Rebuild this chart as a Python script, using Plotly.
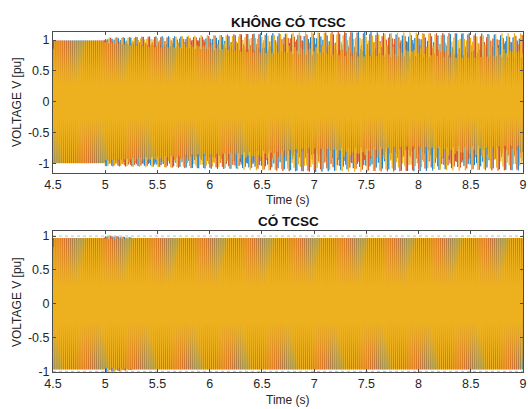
import numpy as np
import plotly.graph_objects as go

# ---- data ----
f_grid = 50.0                      # Hz, grid frequency
f_beat = 17.0                      # Hz, sub-synchronous swing
sample_rate = 3000                 # samples per second
t_start, t_end = 4.5, 9.0

phase_names = ["Va", "Vb", "Vc"]
phase_colors = ["#0072BD", "#D95319", "#EDB120"]
phase_widths = [0.7, 0.8, 1.3]
phase_shift_deg = [0, -120, 120]
beat_shift_deg = [0, 110, 230]

# top panel (KHÔNG CÓ TCSC): amplitude envelope
top_env_t = [4.5, 4.99, 5.0, 5.5, 6.0, 6.5, 7.0, 7.5, 8.0, 8.5, 9.0]
top_env_mean = [0.99, 0.99, 0.99, 0.97, 0.96, 0.95, 0.94, 0.93, 0.92, 0.91, 0.91]
top_env_swing = [0.0, 0.0, 0.05, 0.09, 0.12, 0.16, 0.19, 0.20, 0.20, 0.20, 0.20]

# bottom panel (CÓ TCSC): amplitude envelope
bot_env_t = [4.5, 4.99, 5.0, 5.15, 5.3, 9.0]
bot_env_mean = [0.97, 0.97, 0.98, 0.975, 0.97, 0.97]
bot_env_swing = [0.0, 0.0, 0.035, 0.02, 0.0, 0.0]

x_ticks = [4.5, 5, 5.5, 6, 6.5, 7, 7.5, 8, 8.5, 9]
x_tick_text = ["4.5", "5", "5.5", "6", "6.5", "7", "7.5", "8", "8.5", "9"]
y_ticks = [-1, -0.5, 0, 0.5, 1]
y_tick_text = ["-1", "-0.5", "0", "0.5", "1"]
ref_levels = [-1, 1]

titles = ["KHÔNG CÓ TCSC", "CÓ TCSC"]
x_title = "Time (s)"
y_title = "VOLTAGE V [pu]"

# ---- build figure ----
t = np.arange(t_start, t_end + 1e-9, 1.0 / sample_rate)


def waves(env_t, env_mean, env_swing):
    m = np.interp(t, env_t, env_mean)
    s = np.interp(t, env_t, env_swing)
    out = []
    for ph, bs in zip(phase_shift_deg, beat_shift_deg):
        amp = m + s * np.sin(2 * np.pi * f_beat * t + np.deg2rad(bs))
        out.append(amp * np.sin(2 * np.pi * f_grid * t + np.deg2rad(ph)))
    return out


fig = go.Figure()
panels = [
    ("x", "y", waves(top_env_t, top_env_mean, top_env_swing)),
    ("x2", "y2", waves(bot_env_t, bot_env_mean, bot_env_swing)),
]
for xa, ya, ws in panels:
    for name, col, lw, w in zip(phase_names, phase_colors, phase_widths, ws):
        fig.add_trace(go.Scatter(x=t, y=w, mode="lines", name=name,
                                 line=dict(color=col, width=lw),
                                 xaxis=xa, yaxis=ya, showlegend=False,
                                 hoverinfo="skip"))

# dotted reference lines in bottom panel
for lv in ref_levels:
    fig.add_trace(go.Scatter(x=[t_start, t_end], y=[lv, lv], mode="lines",
                             line=dict(color="#BDBDBD", width=1, dash="dot"),
                             xaxis="x2", yaxis="y2", showlegend=False,
                             hoverinfo="skip"))

W, H = 528, 409
xdom = [53 / W, 523 / W]
top_dom = [(H - 173) / H, (H - 32) / H]
bot_dom = [(H - 372) / H, (H - 231) / H]
x_range = [t_start, t_end]

axis_common = dict(showline=True, mirror="allticks", linecolor="#4d4d4d",
                   linewidth=1, ticks="inside", ticklen=3, tickcolor="#4d4d4d",
                   showgrid=False, zeroline=False, ticklabeloverflow="allow",
                   automargin=False,
                   tickfont=dict(family="Liberation Sans, Arial", size=12.5,
                                 color="#262626"))

font_label = dict(family="Liberation Sans, Arial", size=12, color="#262626")
font_title = dict(family="Liberation Sans, Arial", size=13.5, color="#111111")

fig.update_layout(
    template="none",
    width=W, height=H,
    margin=dict(l=0, r=0, t=0, b=0, pad=0),
    paper_bgcolor="white", plot_bgcolor="white",
    xaxis=dict(domain=xdom, anchor="y", range=x_range,
               tickvals=x_ticks, ticktext=x_tick_text, **axis_common),
    yaxis=dict(domain=top_dom, anchor="x", range=[-1.15, 1.13],
               tickvals=y_ticks, ticktext=y_tick_text, **axis_common),
    xaxis2=dict(domain=xdom, anchor="y2", range=x_range,
                tickvals=x_ticks, ticktext=x_tick_text, **axis_common),
    yaxis2=dict(domain=bot_dom, anchor="x2", range=[-1.01, 1.075],
                tickvals=y_ticks, ticktext=y_tick_text, **axis_common),
)

ann = []
cx = (xdom[0] + xdom[1]) / 2
for title, ttl_y, time_y, ylab in [(titles[0], 22, 200, 102), (titles[1], 222, 400, 302)]:
    ann.append(dict(text="<b>%s</b>" % title, x=cx, y=1 - ttl_y / H,
                    xref="paper", yref="paper", showarrow=False,
                    xanchor="center", yanchor="middle", font=font_title))
    ann.append(dict(text=x_title, x=cx, y=1 - time_y / H,
                    xref="paper", yref="paper", showarrow=False,
                    xanchor="center", yanchor="middle", font=font_label))
    ann.append(dict(text=y_title, x=17 / W, y=1 - ylab / H, textangle=-90,
                    xref="paper", yref="paper", showarrow=False,
                    xanchor="center", yanchor="middle", font=font_label))
fig.update_layout(annotations=ann)

fig.write_html("out.html",
               config={"displayModeBar": False},
               post_script="document.body.style.margin='0';"
                           "document.body.style.padding='0';"
                           "document.body.style.overflow='hidden';")
